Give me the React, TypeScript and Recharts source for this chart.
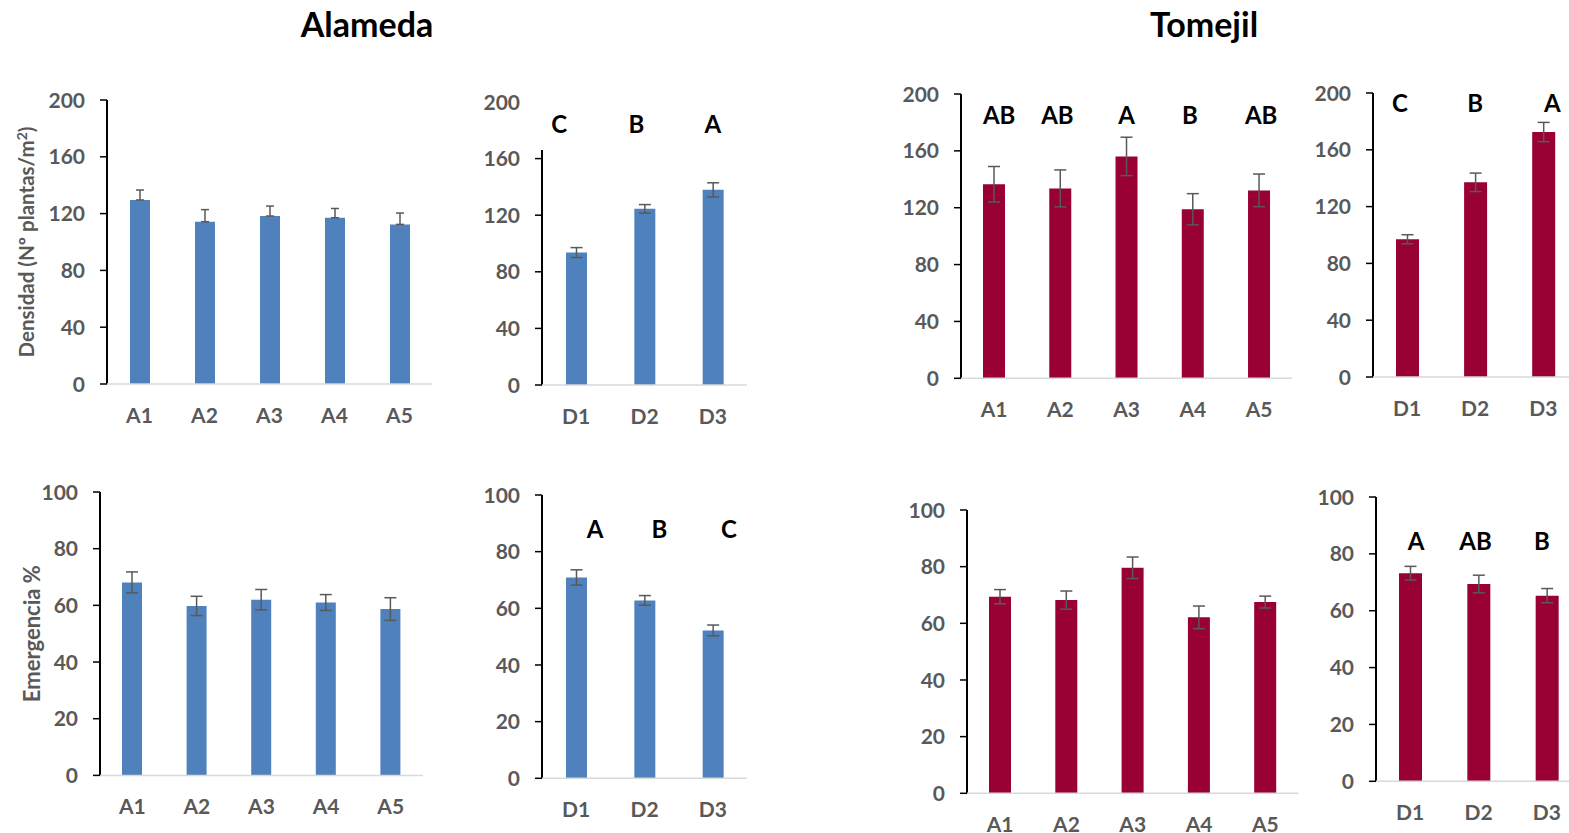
import React from "react";
import {
  BarChart,
  Bar,
  XAxis,
  YAxis,
  ErrorBar,
  ReferenceDot,
  ReferenceLine,
} from "recharts";

const catA = ["A1", "A2", "A3", "A4", "A5"];
const catD = ["D1", "D2", "D3"];

const densTicks = [0, 40, 80, 120, 160, 200];
const emerTicks = [0, 20, 40, 60, 80, 100];

// Alameda
const alamedaDensA = [129.6, 114.3, 118.3, 117.1, 112.4];
const alamedaDensAErr = [7, 8.5, 7, 6.5, 8];
const alamedaDensD = [93.6, 124.5, 137.9];
const alamedaDensDErr = [3.5, 3, 5];
const alamedaDensDLetters = ["C", "B", "A"];

const alamedaEmerA = [68.1, 59.8, 62, 61, 58.7];
const alamedaEmerAErr = [3.7, 3.4, 3.6, 2.8, 4];
const alamedaEmerD = [70.9, 62.8, 52.2];
const alamedaEmerDErr = [2.7, 1.7, 1.9];
const alamedaEmerDLetters = ["A", "B", "C"];

// Tomejil
const tomejilDensA = [136.5, 133.6, 156.1, 118.9, 132.2];
const tomejilDensAErr = [12.5, 13, 13.5, 11, 11.5];
const tomejilDensALetters = ["AB", "AB", "A", "B", "AB"];
const tomejilDensD = [97, 137.1, 172.5];
const tomejilDensDErr = [3.2, 6.5, 6.8];
const tomejilDensDLetters = ["C", "B", "A"];

const tomejilEmerA = [69.4, 68.2, 79.6, 62.1, 67.5];
const tomejilEmerAErr = [2.5, 3.2, 3.8, 4, 2.1];
const tomejilEmerD = [73.2, 69.4, 65.3];
const tomejilEmerDErr = [2.4, 3.1, 2.5];
const tomejilEmerDLetters = ["A", "AB", "B"];

const BLUE = "#4f81bd";
const WINE = "#990033";
const GREY = "#595959";
const FONT = "Lato, 'Open Sans', sans-serif";
const TICK_FS = 21;

const Y_W = 100;
const M_TOP = 15;
const M_RIGHT = 5;
const X_H = 50;

type Panel = {
  cats: string[];
  vals: number[];
  errs: number[];
  upperOnly?: boolean;
  letters?: string[];
  letterY?: number;
  letterDx?: number[];
  ticks: number[];
  axisTop: number;
  color: string;
  left: number;
  top: number;
  right: number;
  bottom: number;
  barSize: number;
  cap: number;
  yTitle?: "dens" | "emer";
  yTitleX?: number;
};

const panels: Panel[] = [
  {
    cats: catA, vals: alamedaDensA, errs: alamedaDensAErr, upperOnly: true,
    ticks: densTicks, axisTop: 200, color: BLUE,
    left: 107, top: 100, right: 432, bottom: 384, barSize: 20, cap: 4,
    yTitle: "dens", yTitleX: 20,
  },
  {
    cats: catD, vals: alamedaDensD, errs: alamedaDensDErr,
    letters: alamedaDensDLetters, letterY: 184, letterDx: [-17, -8, 0],
    ticks: densTicks, axisTop: 166, color: BLUE,
    left: 541.7, top: 102, right: 746.7, bottom: 385, barSize: 21, cap: 6,
  },
  {
    cats: catA, vals: tomejilDensA, errs: tomejilDensAErr,
    letters: tomejilDensALetters, letterY: 185, letterDx: [5, -3, 0, -3, 2],
    ticks: densTicks, axisTop: 200, color: WINE,
    left: 960.7, top: 94, right: 1292, bottom: 378.3, barSize: 22, cap: 6,
  },
  {
    cats: catD, vals: tomejilDensD, errs: tomejilDensDErr,
    letters: tomejilDensDLetters, letterY: 193, letterDx: [-7, 0, 9],
    ticks: densTicks, axisTop: 200, color: WINE,
    left: 1372.7, top: 92.7, right: 1577, bottom: 376.7, barSize: 23, cap: 6,
  },
  {
    cats: catA, vals: alamedaEmerA, errs: alamedaEmerAErr,
    ticks: emerTicks, axisTop: 100, color: BLUE,
    left: 100, top: 492.3, right: 423, bottom: 775.7, barSize: 20, cap: 6,
    yTitle: "emer", yTitleX: 33,
  },
  {
    cats: catD, vals: alamedaEmerD, errs: alamedaEmerDErr,
    letters: alamedaEmerDLetters, letterY: 88, letterDx: [19, 15, 16],
    ticks: emerTicks, axisTop: 100, color: BLUE,
    left: 541.7, top: 495, right: 746.7, bottom: 778.3, barSize: 21, cap: 6,
  },
  {
    cats: catA, vals: tomejilEmerA, errs: tomejilEmerAErr,
    ticks: emerTicks, axisTop: 100, color: WINE,
    left: 967.3, top: 510, right: 1298.8, bottom: 793.3, barSize: 22, cap: 6,
  },
  {
    cats: catD, vals: tomejilEmerD, errs: tomejilEmerDErr,
    letters: tomejilEmerDLetters, letterY: 84.4, letterDx: [6, -3, -5],
    ticks: emerTicks, axisTop: 100, color: WINE,
    left: 1376, top: 496.7, right: 1581, bottom: 781, barSize: 23, cap: 6,
  },
];

const makeYTick = (axisTop: number) => (props: any) => {
  const { x, y, payload } = props;
  const ax = x + 22;
  return (
    <g>
      {payload.value <= axisTop && (
        <line x1={ax - 7} x2={ax} y1={y} y2={y} stroke="#000" strokeWidth={1.5} />
      )}
      <text x={x} y={y} dy="0.36em" textAnchor="end" fill={GREY}
        fontSize={TICK_FS} fontWeight={700} fontFamily={FONT}>
        {payload.value}
      </text>
    </g>
  );
};

function LetterLabel(props: any) {
  const { viewBox, text, dx } = props;
  if (!viewBox) return null;
  const cx = viewBox.x + viewBox.width / 2 + (dx || 0);
  const cy = viewBox.y + viewBox.height / 2;
  return (
    <text x={cx} y={cy} dy="0.36em" textAnchor="middle" fill="#000"
      fontSize={24} fontWeight={700} fontFamily={FONT}>
      {text}
    </text>
  );
}

function YTitle(props: any) {
  const { viewBox, kind, x0 } = props;
  if (!viewBox) return null;
  const x = viewBox.x + x0;
  const y = viewBox.y + viewBox.height / 2;
  const common = {
    fill: GREY, fontSize: 20.5, fontWeight: 700, fontFamily: FONT, textAnchor: "middle" as const,
  };
  return (
    <text x={x} y={y} dy="0.36em" transform={`rotate(-90 ${x} ${y})`} {...common}>
      {kind === "dens" ? (
        <>
          <tspan>Densidad (Nº plantas/m</tspan>
          <tspan dy={-7} fontSize={14}>2</tspan>
          <tspan dy={7}>)</tspan>
        </>
      ) : (
        <tspan fontSize={22}>Emergencia %</tspan>
      )}
    </text>
  );
}

function PanelChart({ p }: { p: Panel }) {
  const data = p.cats.map((c, i) => ({
    cat: c,
    value: p.vals[i],
    err: p.upperOnly ? [0, p.errs[i]] : p.errs[i],
  }));
  const plotW = p.right - p.left;
  const plotH = p.bottom - p.top;
  const w = Y_W + plotW + M_RIGHT;
  const h = M_TOP + plotH + X_H;
  const max = p.ticks[p.ticks.length - 1];
  return (
    <div style={{ position: "absolute", left: p.left - Y_W, top: p.top - M_TOP }}>
      <BarChart width={w} height={h} data={data}
        margin={{ top: M_TOP, right: M_RIGHT, left: 0, bottom: 0 }}>
        <XAxis dataKey="cat" interval={0} height={X_H}
          axisLine={{ stroke: "#d9d9d9", strokeWidth: 1.5 }} tickLine={false}
          tickMargin={18}
          tick={{ fill: GREY, fontSize: TICK_FS, fontWeight: 700, fontFamily: FONT }} />
        <XAxis xAxisId="edge" type="number" domain={[0, 1]} allowDataOverflow hide />
        <YAxis width={Y_W} domain={[0, max]} ticks={p.ticks} interval={0}
          axisLine={false} tickLine={false} tickSize={7} tickMargin={15}
          tick={makeYTick(p.axisTop)}
          label={p.yTitle ? <YTitle kind={p.yTitle} x0={p.yTitleX} /> : undefined} />
        <Bar dataKey="value" fill={p.color} barSize={p.barSize} isAnimationActive={false}>
          <ErrorBar dataKey="err" width={p.cap} strokeWidth={1.5} stroke={GREY} direction="y" />
        </Bar>
        <ReferenceLine xAxisId="edge" segment={[{ x: 0, y: 0 }, { x: 0, y: p.axisTop }]}
          stroke="#000" strokeWidth={2} ifOverflow="visible" />
        {p.letters &&
          p.cats.map((c, i) => (
            <ReferenceDot key={c} x={c} y={p.letterY} r={0.1} fill="none" stroke="none"
              label={<LetterLabel text={p.letters![i]} dx={p.letterDx ? p.letterDx[i] : 0} />} />
          ))}
      </BarChart>
    </div>
  );
}

export default function App() {
  return (
    <div style={{
      position: "absolute", left: 0, top: 0, width: 1569, height: 833,
      overflow: "hidden", background: "#fff", fontFamily: FONT,
    }}>
      <div style={{ position: "absolute", left: 217, width: 300, top: 3, textAlign: "center",
        fontSize: 34, fontWeight: 700, color: "#000" }}>Alameda</div>
      <div style={{ position: "absolute", left: 1054, width: 300, top: 3, textAlign: "center",
        fontSize: 34, fontWeight: 700, color: "#000" }}>Tomejil</div>
      {panels.map((p, i) => (
        <PanelChart key={i} p={p} />
      ))}
    </div>
  );
}
